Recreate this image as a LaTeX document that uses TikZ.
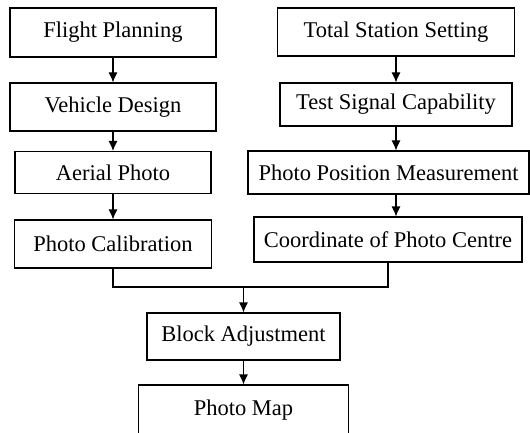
\documentclass[tikz,border=0pt]{standalone}
\usepackage{fontspec}
\setmainfont{Liberation Serif}
\usetikzlibrary{arrows.meta}

\begin{document}
\begin{tikzpicture}[->,>={Latex[length=10pt,width=9pt]}, x=1pt, y=-1pt, line width=1.1pt,
	box/.style={draw, inner sep=0pt, font=\fontsize{22.5}{27}\selectfont}]
		\useasboundingbox (0,0) rectangle (530,433);
		\node[box, minimum width=206pt, minimum height=49pt]	(A)	at (113,32.5)
			{Flight Planning};
		\node[box, minimum width=206pt, minimum height=48pt]	(B)	at (113,107)
			{Vehicle Design};
		\node[box, minimum width=196pt, minimum height=42pt]	(C)	at (113,172.5)
			{Aerial Photo};
		\node[box, minimum width=197pt, minimum height=48pt]	(D)	at (113,244)
			{Photo Calibration};
		\node[box, minimum width=237pt, minimum height=48pt]	(E)	at (396,32)
			{Total Station Setting};
		\node[box, minimum width=232pt, minimum height=43pt]	(F)	at (396,104.5)
			{Test Signal Capability};
		\node[box, minimum width=281pt, minimum height=43pt]	(G)	at (388.5,172.5)
			{Photo Position Measurement};
		\node[box, minimum width=268pt, minimum height=45pt]	(H)	at (388,239.5)
			{Coordinate of Photo Centre};
		\coordinate	(K)	at (243.5,287);
		\node[box, minimum width=193pt, minimum height=47pt]	(I)	at (243.5,336.5)
			{Block Adjustment};
		\node[box, minimum width=210pt, minimum height=50pt]	(J)	at (243.5,410)
			{Photo Map};
		\draw[-]	(D.south)	|-	(K)	-|	(H.south);
		\path	(A)	edge	(A |- B.north)
				(B)	edge	(B |- C.north)
				(C)	edge	(C |- D.north)
				(E)	edge	(E |- F.north)
				(F)	edge	(F |- G.north)
				(G.south -| F)	edge	(F |- H.north)
				(K)	edge	(I)
				(I)	edge	(J);
	\end{tikzpicture}
\end{document}
